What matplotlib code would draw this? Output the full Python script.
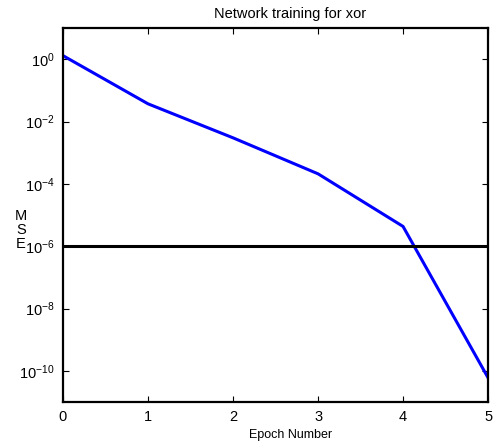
import matplotlib
matplotlib.use("Agg")
import matplotlib.pyplot as plt

plt.rcParams['font.family'] = ['Liberation Sans', 'DejaVu Sans']
plt.rcParams['mathtext.fontset'] = 'custom'
plt.rcParams['mathtext.rm'] = 'Liberation Sans'
plt.rcParams['mathtext.it'] = 'Liberation Sans'
plt.rcParams['mathtext.bf'] = 'Liberation Sans'

epochs = [0, 1, 2, 3, 4, 5]
mse = [1.3, 0.037, 3.0e-3, 2.1e-4, 4.3e-6, 6e-11]
goal = 1e-6
xticks = [0, 1, 2, 3, 4, 5]
yticks = [1e0, 1e-2, 1e-4, 1e-6, 1e-8, 1e-10]
ytick_labels = [r'$10^{0}$', r'$10^{-2}$', r'$10^{-4}$', r'$10^{-6}$', r'$10^{-8}$', r'$10^{-10}$']

fig = plt.figure(figsize=(4.96, 4.45), dpi=100)
ax = fig.add_axes([0.127, 0.0966, 0.857, 0.8404])
ax.semilogy(epochs, mse, color='#0000ff', linewidth=2.2)
ax.axhline(goal, color='black', linewidth=2.2)
ax.set_xlim(0, 5)
ax.set_ylim(1e-11, 1e1)
ax.set_xticks(xticks)
ax.set_xticklabels([str(t) for t in xticks], fontsize=10.5)
ax.set_yticks(yticks)
ax.set_yticklabels(ytick_labels, fontsize=10.5)
ax.minorticks_off()
ax.yaxis.set_minor_locator(matplotlib.ticker.NullLocator())
ax.tick_params(direction='in', top=True, right=True, length=4, width=0.8, pad=6)
for s in ax.spines.values():
    s.set_linewidth(1.6)
ax.set_title('Network training for xor', fontsize=10.5, pad=7, x=0.534)
ax.set_xlabel('Epoch Number', fontsize=9, labelpad=3, x=0.535)
fig.text(0.042, 0.483, 'M\nS\nE', fontsize=10.5, ha='center', va='center', linespacing=1.0)
fig.savefig('out.png', dpi=100)
